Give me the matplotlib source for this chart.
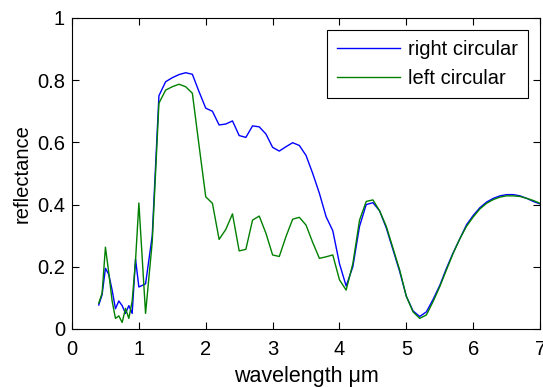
import numpy as np
import matplotlib
matplotlib.use('Agg')
import matplotlib.pyplot as plt

plt.rcParams['font.family'] = ['Liberation Sans', 'DejaVu Sans']

# longitudes de onda (um): paso 0.05 hasta 0.95, luego 0.1
wl_short = [0.40, 0.45, 0.50, 0.55, 0.60, 0.65, 0.70, 0.75, 0.80, 0.85, 0.90, 0.95]
wl_long = [1.0, 1.1, 1.2, 1.3, 1.4, 1.5, 1.6, 1.7, 1.8, 1.9,
           2.0, 2.1, 2.2, 2.3, 2.4, 2.5, 2.6, 2.7, 2.8, 2.9,
           3.0, 3.1, 3.2, 3.3, 3.4, 3.5, 3.6, 3.7, 3.8, 3.9,
           4.0, 4.1, 4.2, 4.3, 4.4, 4.5, 4.6, 4.7, 4.8, 4.9,
           5.0, 5.1, 5.2, 5.3, 5.4, 5.5, 5.6, 5.7, 5.8, 5.9,
           6.0, 6.1, 6.2, 6.3, 6.4, 6.5, 6.6, 6.7, 6.8, 6.9, 7.0]
wavelength = wl_short + wl_long

right_circ = [0.077, 0.11, 0.195, 0.175, 0.125, 0.065, 0.09, 0.075, 0.05, 0.075, 0.05, 0.225,
              0.135, 0.145, 0.30, 0.75, 0.795, 0.808, 0.818, 0.824, 0.819, 0.763,
              0.71, 0.70, 0.656, 0.659, 0.669, 0.622, 0.616, 0.653, 0.650, 0.627,
              0.584, 0.572, 0.586, 0.599, 0.590, 0.558, 0.50, 0.436, 0.361, 0.316,
              0.21, 0.138, 0.20, 0.33, 0.40, 0.406, 0.38, 0.325, 0.255, 0.185,
              0.105, 0.058, 0.04, 0.055, 0.095, 0.14, 0.195, 0.245, 0.29, 0.335,
              0.365, 0.39, 0.408, 0.42, 0.428, 0.432, 0.432, 0.428, 0.42, 0.41, 0.402]

left_circ = [0.083, 0.115, 0.263, 0.18, 0.09, 0.034, 0.042, 0.021, 0.066, 0.034, 0.09, 0.22,
             0.405, 0.05, 0.28, 0.726, 0.768, 0.779, 0.787, 0.779, 0.758, 0.59,
             0.425, 0.404, 0.288, 0.32, 0.37, 0.251, 0.256, 0.35, 0.363, 0.308,
             0.238, 0.233, 0.297, 0.353, 0.359, 0.334, 0.278, 0.227, 0.232, 0.238,
             0.158, 0.125, 0.21, 0.35, 0.41, 0.415, 0.38, 0.33, 0.26, 0.19,
             0.105, 0.055, 0.034, 0.045, 0.088, 0.136, 0.19, 0.243, 0.29, 0.33,
             0.36, 0.386, 0.404, 0.416, 0.424, 0.428, 0.428, 0.426, 0.42, 0.413, 0.404]

fig = plt.figure(figsize=(5.43, 3.87), dpi=100)
ax = fig.add_axes([0.1326, 0.15, 0.862, 0.8035])
ax.plot(wavelength, right_circ, color=(0, 0, 1), lw=1, label='right circular')
ax.plot(wavelength, left_circ, color=(0, 0.5, 0), lw=1, label='left circular')

ax.set_xlim(0, 7)
ax.set_ylim(0, 1)
ax.set_xticks(range(0, 8))
ax.set_yticks([0, 0.2, 0.4, 0.6, 0.8, 1])
ax.set_yticklabels(['0', '0.2', '0.4', '0.6', '0.8', '1'])
ax.tick_params(direction='in', top=True, right=True, labelsize=14.5, length=5, width=0.8)
ax.tick_params(axis='x', pad=8)
ax.tick_params(axis='y', pad=5)
for s in ax.spines.values():
    s.set_linewidth(0.8)
ax.set_xlabel('wavelength μm', fontsize=15.5, labelpad=5)
ax.set_ylabel('reflectance', fontsize=14.5, labelpad=4)

leg = ax.legend(loc='upper right', fontsize=14.5, fancybox=False, edgecolor='black',
                framealpha=1, handlelength=3.1, handletextpad=0.4, labelspacing=0.5,
                borderpad=0.5, borderaxespad=0.6)
leg.get_frame().set_linewidth(0.8)

fig.savefig('out.png', dpi=100)
